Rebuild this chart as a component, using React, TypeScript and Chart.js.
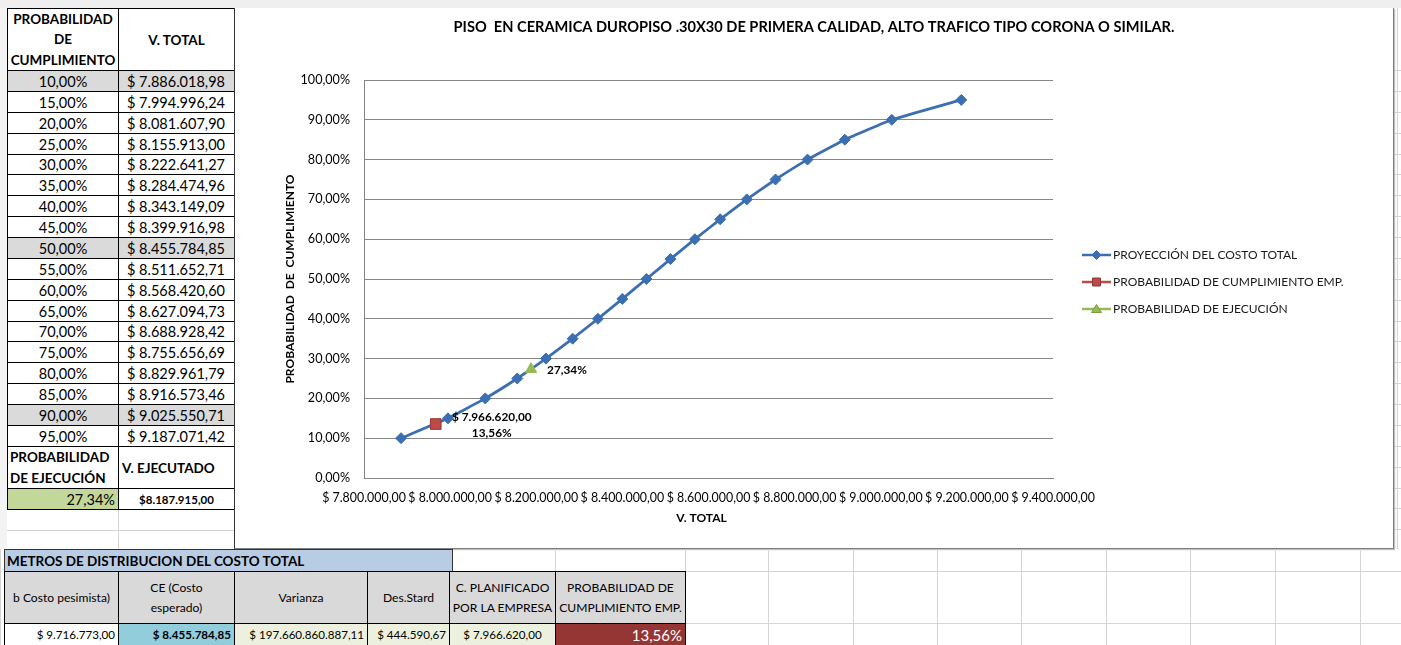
import React, { useEffect, useRef } from 'react';
import { Chart, registerables } from 'chart.js';

Chart.register(...registerables);

// ---------------- DATA ----------------
const probabilities = [10, 15, 20, 25, 30, 35, 40, 45, 50, 55, 60, 65, 70, 75, 80, 85, 90, 95];
const totalValues = [
  7886018.98, 7994996.24, 8081607.9, 8155913.0, 8222641.27, 8284474.96, 8343149.09, 8399916.98,
  8455784.85, 8511652.71, 8568420.6, 8627094.73, 8688928.42, 8755656.69, 8829961.79, 8916573.46,
  9025550.71, 9187071.42,
];
const shadedProbabilities = [10, 50, 90];
const executionProbability = 27.34;
const executedValue = 8187915.0;
const pessimisticCost = 9716773.0;
const expectedCost = 8455784.85;
const varianceValue = 197660860887.11;
const stdDeviation = 444590.67;
const plannedCost = 7966620.0;
const companyProbability = 13.56;

const xTickMin = 7800000;
const xTickMax = 9400000;
const xTickStep = 200000;
const yTickMin = 0;
const yTickMax = 100;
const yTickStep = 10;

const seriesNames = [
  'PROYECCIÓN DEL COSTO TOTAL',
  'PROBABILIDAD DE CUMPLIMIENTO EMP.',
  'PROBABILIDAD DE EJECUCIÓN',
];
const chartTitle = 'PISO  EN CERAMICA DUROPISO .30X30 DE PRIMERA CALIDAD, ALTO TRAFICO TIPO CORONA O SIMILAR.';
const xAxisTitle = 'V. TOTAL';
const yAxisTitle = 'PROBABILIDAD  DE  CUMPLIMIENTO';
const paramTitle = 'METROS DE DISTRIBUCION DEL COSTO TOTAL';
const paramHeaders = [
  'b Costo pesimista)',
  'CE (Costo\nesperado)',
  'Varianza',
  'Des.Stard',
  'C. PLANIFICADO\nPOR LA EMPRESA',
  'PROBABILIDAD DE\nCUMPLIMIENTO EMP.',
];

// ---------------- STYLE ----------------
const FONT = 'Lato, "Open Sans", sans-serif';
const BLUE = '#3c6fb2';
const RED = '#be4b48';
const RED_DARK = '#8c3836';
const GREEN = '#98b954';
const GRID = '#868686';
const XL = '#d4d4d4';

function fmtNum(v: number, dec = 2): string {
  const fixed = Math.abs(v).toFixed(dec);
  const [intPart, frac] = fixed.split('.');
  const intS = intPart.replace(/\B(?=(\d{3})+(?!\d))/g, '.');
  return (v < 0 ? '-' : '') + intS + (dec > 0 ? ',' + frac : '');
}
const money = (v: number) => '$ ' + fmtNum(v, 2);
const pct = (v: number) => fmtNum(v, 2) + '%';

function drawMarker(ctx: CanvasRenderingContext2D, kind: string, x: number, y: number, fill: string, stroke: string) {
  ctx.save();
  ctx.fillStyle = fill;
  ctx.strokeStyle = stroke;
  ctx.lineWidth = 1;
  ctx.beginPath();
  if (kind === 'diamond') {
    const r = 4.5;
    ctx.moveTo(x, y - r);
    ctx.lineTo(x + r, y);
    ctx.lineTo(x, y + r);
    ctx.lineTo(x - r, y);
    ctx.closePath();
  } else if (kind === 'square') {
    ctx.rect(x - 4, y - 4, 8, 8);
  } else {
    ctx.moveTo(x, y - 4.5);
    ctx.lineTo(x + 5, y + 3.5);
    ctx.lineTo(x - 5, y + 3.5);
    ctx.closePath();
  }
  ctx.fill();
  ctx.stroke();
  ctx.restore();
}

const overlayPlugin = {
  id: 'overlay',
  afterDraw(chart: any) {
    const { ctx, chartArea, scales } = chart;
    ctx.save();
    ctx.fillStyle = '#000';
    ctx.textBaseline = 'middle';
    ctx.textAlign = 'center';
    // Title
    ctx.font = `bold 14.6px ${FONT}`;
    ctx.fillText(chartTitle, chart.width / 2, 19);
    // X axis title
    ctx.font = `bold 12px ${FONT}`;
    ctx.fillText(xAxisTitle, (chartArea.left + chartArea.right) / 2 - 7, chartArea.bottom + 40);
    // Y axis title
    ctx.save();
    ctx.translate(56, (chartArea.top + chartArea.bottom) / 2);
    ctx.rotate(-Math.PI / 2);
    ctx.fillText(yAxisTitle, 0, 0);
    ctx.restore();

    // Data labels
    const px = scales.x.getPixelForValue(plannedCost);
    const py = scales.y.getPixelForValue(companyProbability);
    ctx.font = `bold 11.8px ${FONT}`;
    ctx.textAlign = 'center';
    ctx.fillText(money(plannedCost), px + 56, py - 7);
    ctx.fillText(pct(companyProbability), px + 56, py + 9);
    const ex = scales.x.getPixelForValue(executedValue);
    const ey = scales.y.getPixelForValue(executionProbability);
    ctx.textAlign = 'left';
    ctx.fillText(pct(executionProbability), ex + 16, ey + 1);

    // Legend
    const colors = [BLUE, RED, GREEN];
    const strokes = [BLUE, RED_DARK, '#7a9a3e'];
    const kinds = ['diamond', 'square', 'triangle'];
    const lx = chartArea.right + 29;
    seriesNames.forEach((name, i) => {
      const y = 247 + 27 * i;
      ctx.save();
      ctx.strokeStyle = colors[i];
      ctx.lineWidth = 2.5;
      ctx.beginPath();
      ctx.moveTo(lx, y);
      ctx.lineTo(lx + 29, y);
      ctx.stroke();
      ctx.restore();
      drawMarker(ctx, kinds[i], lx + 14.5, y, colors[i], strokes[i]);
      ctx.fillStyle = '#1a1a1a';
      ctx.font = `12px ${FONT}`;
      ctx.textAlign = 'left';
      ctx.fillText(name, lx + 31, y);
    });
    ctx.restore();
  },
};

function ChartCanvas() {
  const ref = useRef<HTMLCanvasElement>(null);
  useEffect(() => {
    const lineData = totalValues.map((v, i) => ({ x: v, y: probabilities[i] }));
    const chart = new Chart(ref.current as HTMLCanvasElement, {
      type: 'scatter',
      data: {
        datasets: [
          {
            label: seriesNames[0],
            data: lineData,
            showLine: true,
            borderColor: BLUE,
            backgroundColor: BLUE,
            borderWidth: 2.8,
            pointStyle: 'rectRot',
            pointRadius: 5.5,
            pointBackgroundColor: BLUE,
            pointBorderColor: BLUE,
            pointBorderWidth: 1,
            tension: 0.1,
            order: 3,
          },
          {
            label: seriesNames[1],
            data: [{ x: plannedCost, y: companyProbability }],
            pointStyle: 'rect',
            pointRadius: 7.5,
            pointBackgroundColor: RED,
            pointBorderColor: RED_DARK,
            pointBorderWidth: 1,
            order: 1,
          },
          {
            label: seriesNames[2],
            data: [{ x: executedValue, y: executionProbability }],
            pointStyle: 'triangle',
            pointRadius: 6.5,
            pointBackgroundColor: GREEN,
            pointBorderColor: GREEN,
            pointBorderWidth: 1,
            order: 2,
          },
        ],
      },
      options: {
        responsive: false,
        animation: false,
        devicePixelRatio: 1,
        layout: { padding: { left: 0, top: 72, right: 341, bottom: 0 } },
        plugins: {
          legend: { display: false },
          title: { display: false },
          tooltip: { enabled: false },
        },
        scales: {
          x: {
            type: 'linear',
            min: xTickMin,
            max: xTickMax,
            ticks: {
              stepSize: xTickStep,
              autoSkip: false,
              maxRotation: 0,
              minRotation: 0,
              padding: 13,
              color: '#000',
              font: { family: FONT, size: 12.4 },
              callback: (v: any) => money(Number(v)),
            },
            grid: { display: false, drawTicks: false },
            border: { display: true, color: GRID, width: 1 },
            afterFit: (s: any) => {
              s.height = 71;
            },
          },
          y: {
            min: yTickMin,
            max: yTickMax,
            ticks: {
              stepSize: yTickStep,
              padding: 14,
              color: '#000',
              font: { family: FONT, size: 12.6 },
              callback: (v: any) => pct(Number(v)),
            },
            grid: { color: GRID, lineWidth: 1, drawTicks: false },
            border: { display: true, color: GRID, width: 1 },
            afterFit: (s: any) => {
              s.width = 130;
            },
          },
        },
      },
      plugins: [overlayPlugin],
    } as any);
    return () => chart.destroy();
  }, []);
  return <canvas ref={ref} width={1160} height={541} style={{ display: 'block', width: 1160, height: 541 }} />;
}

type CellProps = {
  x: number;
  y: number;
  w: number;
  h: number;
  bg?: string;
  align?: 'left' | 'center' | 'right';
  bold?: boolean;
  size?: number;
  color?: string;
  border?: string;
  pad?: number;
  lh?: number;
  children?: React.ReactNode;
};

function Cell({ x, y, w, h, bg = '#fff', align = 'center', bold = false, size = 13.5, color = '#000', border = '1px solid #000', pad = 4, lh, children }: CellProps) {
  return (
    <div
      style={{
        position: 'absolute',
        left: x,
        top: y,
        width: w + 1,
        height: h + 1,
        boxSizing: 'border-box',
        border,
        background: bg,
        display: 'flex',
        alignItems: 'center',
        justifyContent: align === 'left' ? 'flex-start' : align === 'right' ? 'flex-end' : 'center',
        textAlign: align,
        padding: `0 ${pad}px`,
        fontWeight: bold ? 700 : 400,
        fontSize: size,
        color,
        lineHeight: lh ? `${lh}px` : 'normal',
        whiteSpace: 'pre',
        overflow: 'hidden',
        fontFamily: FONT,
      }}
    >
      {children}
    </div>
  );
}

const HL = ({ x, y, w }: { x: number; y: number; w: number }) => (
  <div style={{ position: 'absolute', left: x, top: y, width: w, height: 1, background: XL }} />
);
const VL = ({ x, y, h }: { x: number; y: number; h: number }) => (
  <div style={{ position: 'absolute', left: x, top: y, width: 1, height: h, background: XL }} />
);

export default function App() {
  const rowTop = (i: number) => Math.round(70 + i * 20.88);
  const n = probabilities.length;
  const endRows = rowTop(n);
  const rightRowLines = Array.from({ length: n + 5 }, (_, i) => rowTop(i));
  const bottomCols = [4, 118, 234, 367, 449, 555, 685];
  const xlCols = [768, 853, 937, 1021, 1106, 1190, 1275, 1360];
  const paramValues = [pessimisticCost, expectedCost, varianceValue, stdDeviation, plannedCost];

  return (
    <div
      style={{
        position: 'fixed',
        left: 0,
        top: 0,
        width: 1401,
        height: 645,
        background: '#fff',
        overflow: 'hidden',
        fontFamily: FONT,
      }}
    >
      {/* top strip */}
      <div style={{ position: 'absolute', left: 0, top: 0, width: 1401, height: 8, background: '#efefef' }} />
      {/* left strip */}
      <div style={{ position: 'absolute', left: 0, top: 8, width: 7, height: 541, background: '#f3f3f3' }} />

      {/* right strip gridlines */}
      <VL x={1397} y={8} h={541} />
      {rightRowLines.map((y, i) => (
        <HL key={'rr' + i} x={1395} y={y} w={6} />
      ))}

      {/* Excel gridlines under left table */}
      <VL x={118} y={endRows + 63} h={40} />
      <HL x={7} y={530} w={227} />

      {/* Left table header */}
      <Cell x={7} y={8} w={111} h={62} bold size={13.5} lh={20.5} pad={0}>
        {'PROBABILIDAD\nDE\nCUMPLIMIENTO'}
      </Cell>
      <Cell x={118} y={8} w={116} h={62} bold size={13.5}>
        V. TOTAL
      </Cell>
      {probabilities.map((p, i) => {
        const y = rowTop(i);
        const h = rowTop(i + 1) - y;
        const bg = shadedProbabilities.includes(p) ? '#dadada' : '#fff';
        return (
          <React.Fragment key={p}>
            <Cell x={7} y={y} w={111} h={h} bg={bg} size={14.5}>
              {pct(p)}
            </Cell>
            <Cell x={118} y={y} w={116} h={h} bg={bg} size={14.5} align="left" pad={8}>
              {money(totalValues[i])}
            </Cell>
          </React.Fragment>
        );
      })}
      <Cell x={7} y={endRows} w={111} h={42} bold size={13.5} align="left" lh={21} pad={2}>
        {'PROBABILIDAD\nDE EJECUCIÓN'}
      </Cell>
      <Cell x={118} y={endRows} w={116} h={42} bold size={13.5} align="left" pad={3}>
        V. EJECUTADO
      </Cell>
      <Cell x={7} y={endRows + 42} w={111} h={21} bg="#c4d79b" size={14.5} align="right" pad={3}>
        {pct(executionProbability)}
      </Cell>
      <Cell x={118} y={endRows + 42} w={116} h={21} bold size={11.5}>
        {'$' + fmtNum(executedValue)}
      </Cell>

      {/* Chart */}
      <div style={{ position: 'absolute', left: 234, top: 8, width: 1160, height: 541 }}>
        <ChartCanvas />
      </div>
      <div
        style={{
          position: 'absolute',
          left: 234,
          top: 8,
          width: 1160,
          height: 541,
          boxSizing: 'border-box',
          borderLeft: '1px solid #333',
          borderRight: '1px solid #7f7f7f',
          borderBottom: '1px solid #7f7f7f',
          boxShadow: '1px 1px 1px rgba(0,0,0,0.25)',
          pointerEvents: 'none',
        }}
      />

      {/* Bottom Excel gridlines */}
      {[555, 685, ...xlCols].map((x) => (
        <VL key={'bc' + x} x={x} y={549} h={96} />
      ))}
      <HL x={452} y={571} w={949} />
      <HL x={685} y={623} w={716} />
      <VL x={0} y={549} h={96} />

      {/* Bottom table */}
      <Cell x={4} y={549} w={448} h={22} bg="#b8cce4" bold size={13.5} align="left" pad={2} border="1px solid #333">
        {paramTitle}
      </Cell>
      {paramHeaders.map((h, i) => (
        <Cell key={'ph' + i} x={bottomCols[i]} y={571} w={bottomCols[i + 1] - bottomCols[i]} h={52} bg="#d9d9d9" size={12.1} lh={20} pad={1}>
          {h}
        </Cell>
      ))}
      <Cell x={bottomCols[0]} y={623} w={bottomCols[1] - bottomCols[0]} h={22} size={11.6} align="right" pad={3}>
        {money(paramValues[0])}
      </Cell>
      <Cell x={bottomCols[1]} y={623} w={bottomCols[2] - bottomCols[1]} h={22} bg="#92cddc" bold size={11.6} align="right" pad={3}>
        {money(paramValues[1])}
      </Cell>
      <Cell x={bottomCols[2]} y={623} w={bottomCols[3] - bottomCols[2]} h={22} bg="#ebf1de" size={11.6} align="right" pad={3}>
        {money(paramValues[2])}
      </Cell>
      <Cell x={bottomCols[3]} y={623} w={bottomCols[4] - bottomCols[3]} h={22} bg="#ebf1de" size={11.6} align="right" pad={3}>
        {money(paramValues[3])}
      </Cell>
      <Cell x={bottomCols[4]} y={623} w={bottomCols[5] - bottomCols[4]} h={22} bg="#ebf1de" size={11.6} align="center" pad={3}>
        {money(paramValues[4])}
      </Cell>
      <Cell x={bottomCols[5]} y={623} w={bottomCols[6] - bottomCols[5]} h={22} bg="#963634" color="#fff" size={15} align="right" pad={3}>
        {pct(companyProbability)}
      </Cell>
    </div>
  );
}
